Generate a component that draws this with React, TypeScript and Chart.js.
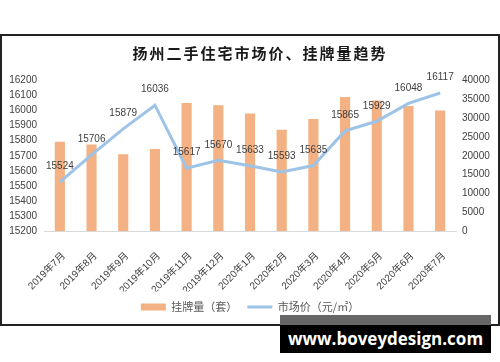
import React, { useEffect, useRef } from "react";
import { Chart, registerables } from "chart.js";

Chart.register(...registerables);

const TITLE = "扬州二手住宅市场价、挂牌量趋势";
const categories = [
  "2019年7月", "2019年8月", "2019年9月", "2019年10月", "2019年11月", "2019年12月",
  "2020年1月", "2020年2月", "2020年3月", "2020年4月", "2020年5月", "2020年6月", "2020年7月",
];
const listings = [23700, 23000, 20400, 21800, 34000, 33400, 31250, 26900, 29800, 35600, 34700, 33200, 32000];
const prices = [15524, 15706, 15879, 16036, 15617, 15670, 15633, 15593, 15635, 15865, 15929, 16048, 16117];
const seriesNames = ["挂牌量（套）", "市场价（元/㎡）"];
const leftAxis = { min: 15200, max: 16200, step: 100 };
const rightAxis = { min: 0, max: 40000, step: 5000 };
const WATERMARK = "www.boveydesign.com";

const FONT = "'Liberation Sans', 'Noto Sans CJK SC', sans-serif";
const CJK = "'Noto Sans CJK SC', sans-serif";

const titlePlugin = {
  id: "customTitle",
  afterDraw(chart: any) {
    const { ctx, chartArea } = chart;
    ctx.save();
    ctx.font = `bold 15px ${CJK}`;
    (ctx as any).letterSpacing = "2px";
    ctx.fillStyle = "#1a1a1a";
    ctx.textAlign = "center";
    ctx.textBaseline = "middle";
    ctx.fillText(TITLE, (chartArea.left + chartArea.right) / 2 + 10, chartArea.top - 27.5);
    ctx.restore();
  },
};

const labelPlugin = {
  id: "pointLabels",
  afterDatasetsDraw(chart: any) {
    const { ctx } = chart;
    const meta = chart.getDatasetMeta(1);
    ctx.save();
    ctx.font = `10px ${FONT}`;
    ctx.fillStyle = "#404040";
    ctx.textAlign = "center";
    ctx.textBaseline = "middle";
    meta.data.forEach((pt: any, i: number) => {
      ctx.fillText(String(prices[i]), pt.x, pt.y - 15.5);
    });
    ctx.restore();
  },
};

export default function App() {
  const ref = useRef<HTMLCanvasElement | null>(null);
  useEffect(() => {
    if (!ref.current) return;
    const chart = new Chart(ref.current, {
      type: "bar",
      data: {
        labels: categories,
        datasets: [
          {
            type: "bar",
            label: seriesNames[0],
            data: listings,
            backgroundColor: "#F4B183",
            borderWidth: 0,
            yAxisID: "y1",
            order: 1,
            barPercentage: 0.32,
            categoryPercentage: 1,
          },
          {
            type: "line",
            label: seriesNames[1],
            data: prices,
            borderColor: "#9DC3E6",
            backgroundColor: "#9DC3E6",
            borderWidth: 3,
            pointRadius: 0,
            tension: 0,
            yAxisID: "y",
            order: 0,
          },
        ] as any,
      },
      options: {
        responsive: false,
        animation: false,
        layout: { padding: { top: 80.5, bottom: 39.5, left: 0, right: 0 } },
        plugins: {
          title: { display: false },
          tooltip: { enabled: false },
          legend: {
            position: "bottom",
            labels: {
              usePointStyle: true,
              pointStyleWidth: 25,
              boxHeight: 7,
              padding: 10,
              color: "#595959",
              font: { size: 11, family: CJK },
              sort: (a: any, b: any) => a.datasetIndex - b.datasetIndex,
              generateLabels: (c: any) => {
                const items = (Chart.defaults.plugins.legend.labels as any).generateLabels(c);
                items.forEach((it: any) => {
                  it.pointStyle = it.datasetIndex === 0 ? "rect" : "line";
                });
                return items;
              },
            },
          },
        },
        scales: {
          x: {
            grid: { display: false },
            border: { display: true, color: "#D9D9D9", width: 1 },
            ticks: {
              autoSkip: false,
              maxRotation: 45,
              minRotation: 45,
              padding: 11,
              labelOffset: 4,
              color: "#404040",
              font: { size: 10, family: FONT },
            },
            afterFit: (s: any) => {
              s.height = 60.5;
            },
          },
          y: {
            position: "left",
            min: leftAxis.min,
            max: leftAxis.max,
            grid: { display: false, drawTicks: false },
            border: { display: false },
            ticks: {
              stepSize: leftAxis.step,
              padding: 7,
              color: "#404040",
              font: { size: 10, family: FONT },
              callback: (v: any) => String(v),
            },
            afterFit: (s: any) => {
              s.width = 44;
            },
          },
          y1: {
            position: "right",
            min: rightAxis.min,
            max: rightAxis.max,
            grid: { display: false, drawTicks: false },
            border: { display: false },
            ticks: {
              stepSize: rightAxis.step,
              padding: 6,
              color: "#404040",
              font: { size: 10, family: FONT },
              callback: (v: any) => String(v),
            },
            afterFit: (s: any) => {
              s.width = 44;
            },
          },
        },
      } as any,
      plugins: [titlePlugin, labelPlugin],
    });
    return () => chart.destroy();
  }, []);

  return (
    <div style={{ position: "absolute", left: 0, top: 0, width: 500, height: 362, background: "#fff", overflow: "hidden" }}>
      <div
        style={{
          position: "absolute",
          left: 0,
          top: 34,
          width: 500,
          height: 292,
          border: "2px solid #222",
          boxSizing: "border-box",
        }}
      />
      <canvas ref={ref} width={500} height={362} style={{ position: "absolute", left: 0, top: 0, width: 500, height: 362 }} />
      <div style={{ position: "absolute", left: 280, top: 315, width: 211, height: 10, background: "#666" }} />
      <div
        style={{
          position: "absolute",
          left: 280,
          top: 325,
          width: 211,
          height: 28,
          background: "#000",
          color: "#fff",
          fontFamily: "'Open Sans', sans-serif",
          fontWeight: 700,
          fontSize: 17,
          lineHeight: "28px",
          textAlign: "center",
        }}
      >
        {WATERMARK}
      </div>
    </div>
  );
}
